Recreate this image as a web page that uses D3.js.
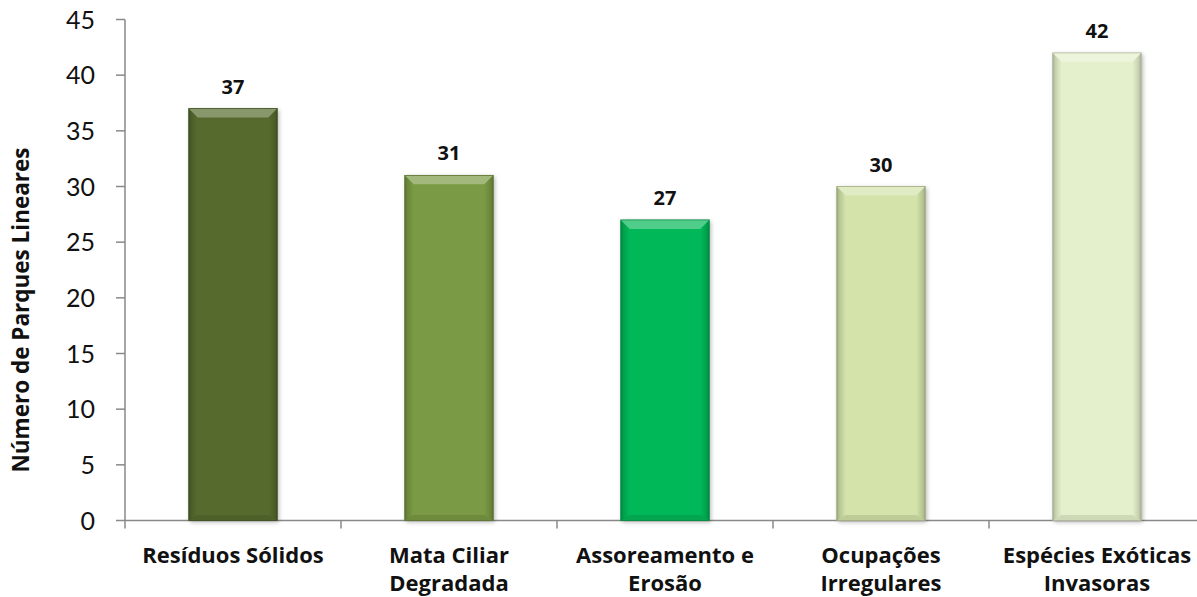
<!DOCTYPE html>
<html><head><meta charset="utf-8">
<script src="https://cdn.jsdelivr.net/npm/d3@7"></script>
<style>body{margin:0;background:#fff}svg{display:block}</style>
</head><body>
<svg id="c" width="1197" height="597"></svg>
<script>
const categories = [["Resíduos Sólidos"],["Mata Ciliar","Degradada"],["Assoreamento e","Erosão"],["Ocupações","Irregulares"],["Espécies Exóticas","Invasoras"]];
const values = [37,31,27,30,42];
const colors = ["#566b2f","#7a9a44","#05b858","#d3e3a9","#e4f0cb"];
const yTicks = [0,5,10,15,20,25,30,35,40,45];
const yTitle = "Número de Parques Lineares";

const svg = d3.select("#c");
const font = "Lato, 'Open Sans', sans-serif";
const bfont = "'Open Sans', Lato, sans-serif";
const x = d3.scaleBand().domain(d3.range(categories.length)).range([125,1205]).paddingInner(0.59).paddingOuter(0.295);
const y = d3.scaleLinear().domain([0,45]).range([520.5,19.5]);

const defs = svg.append("defs");
const f = defs.append("filter").attr("id","sh").attr("x","-20%").attr("y","-10%").attr("width","140%").attr("height","120%");
f.append("feDropShadow").attr("dx",1.5).attr("dy",1.5).attr("stdDeviation",2).attr("flood-color","#000").attr("flood-opacity",0.3);

colors.forEach((c,i)=>{
  const g = defs.append("linearGradient").attr("id","hg"+i).attr("x1","0").attr("x2","1").attr("y1","0").attr("y2","0");
  const dk = d3.color(c).darker(0.9), dk2=d3.color(c).darker(0.4);
  g.append("stop").attr("offset","0").attr("stop-color",dk);
  g.append("stop").attr("offset","0.03").attr("stop-color",dk2);
  g.append("stop").attr("offset","0.1").attr("stop-color",c);
  g.append("stop").attr("offset","0.9").attr("stop-color",c);
  g.append("stop").attr("offset","0.97").attr("stop-color",dk2);
  g.append("stop").attr("offset","1").attr("stop-color",dk);
});

// axes
const ax = svg.append("g").attr("stroke","#898989").attr("stroke-width",1.5);
ax.append("line").attr("x1",125).attr("x2",125).attr("y1",y(45)).attr("y2",y(0));
ax.append("line").attr("x1",125).attr("x2",1205).attr("y1",y(0)).attr("y2",y(0));
yTicks.forEach(t=>ax.append("line").attr("x1",116).attr("x2",125).attr("y1",y(t)).attr("y2",y(t)));
d3.range(categories.length+1).forEach(i=>{
  const xx = 125 + i*x.step();
  ax.append("line").attr("x1",xx).attr("x2",xx).attr("y1",y(0)).attr("y2",y(0)+8);
});

svg.append("g").selectAll("text").data(yTicks).join("text")
  .attr("x",95).attr("y",d=>y(d)).attr("dy","0.36em").attr("text-anchor","end")
  .attr("font-family",font).attr("font-size",25).attr("fill","#111").text(d=>d);

svg.append("text").attr("transform","translate(29,310) rotate(-90)").attr("text-anchor","middle")
  .attr("font-family",bfont).attr("font-size",22.5).attr("font-weight","bold").attr("fill","#111").text(yTitle);

// bars
const bars = svg.append("g").selectAll("g").data(values).join("g");
bars.each(function(v,i){
  const g = d3.select(this);
  const x0 = x(i), w = x.bandwidth(), y0 = y(v), h = y(0)-y(v);
  const c = colors[i];
  g.append("rect").attr("x",x0).attr("y",y0).attr("width",w).attr("height",h)
    .attr("fill","url(#hg"+i+")").attr("filter","url(#sh)");
  const b = 9;
  g.append("polygon").attr("points",[[x0,y0],[x0+w,y0],[x0+w-b,y0+b],[x0+b,y0+b]].map(p=>p.join(",")).join(" "))
    .attr("fill",d3.interpolateRgb(c,"#fff")(0.3));
  g.append("polygon").attr("points",[[x0,y0+h],[x0+w,y0+h],[x0+w-b,y0+h-b*0.6],[x0+b,y0+h-b*0.6]].map(p=>p.join(",")).join(" "))
    .attr("fill",d3.color(c).darker(0.3));
  g.append("rect").attr("x",x0).attr("y",y0).attr("width",w).attr("height",h).attr("fill","none")
    .attr("stroke",d3.color(c).darker(0.8)).attr("stroke-width",0.8);
  g.append("text").attr("x",x0+w/2).attr("y",y0-15).attr("text-anchor","middle")
    .attr("font-family",bfont).attr("font-size",20).attr("font-weight","bold").attr("fill","#111").text(v);
});

// category labels
categories.forEach((lines,i)=>{
  const t = svg.append("text").attr("x",x(i)+x.bandwidth()/2).attr("y",563).attr("text-anchor","middle")
    .attr("font-family",bfont).attr("font-size",22).attr("font-weight","bold").attr("fill","#111");
  lines.forEach((l,j)=>t.append("tspan").attr("x",x(i)+x.bandwidth()/2).attr("dy",j?28:0).text(l));
});
</script>
</body></html>
